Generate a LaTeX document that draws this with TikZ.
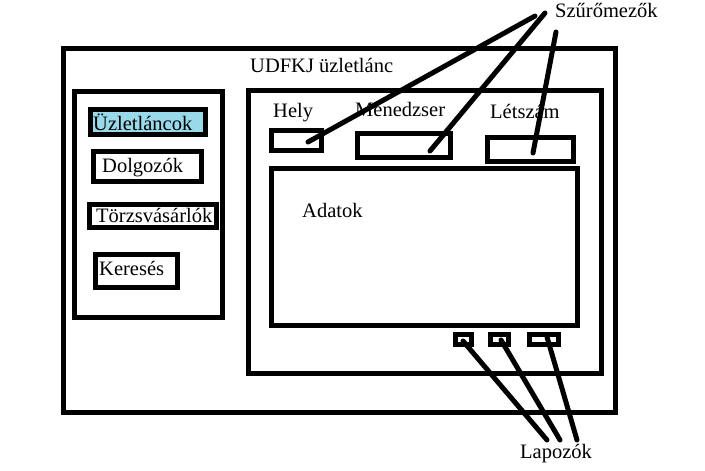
\documentclass[tikz,border=0pt]{standalone}
\usepackage{fontspec}
\setmainfont{Liberation Serif}
\definecolor{selblue}{HTML}{99D9EA}
\begin{document}
\begin{tikzpicture}[x=1pt,y=-1pt,
  box/.style={draw=black,line width=5pt,inner sep=0pt,outer sep=0pt,rectangle},
  lbl/.style={anchor=base west,inner sep=0pt,font=\fontsize{20.5}{24}\selectfont},
  conn/.style={draw=black,line width=5pt,line cap=round}]
\useasboundingbox (0,0) rectangle (705,471);
% frames
\node[box,minimum width=552pt,minimum height=364pt] (outer) at (339,230) {};
\node[box,minimum width=148pt,minimum height=226pt] (menu) at (148,204) {};
\node[box,minimum width=353pt,minimum height=283pt] (inner) at (424.5,231.5) {};
\node[box,minimum width=306pt,minimum height=157pt] (data) at (424,246.5) {};
% menu buttons
\node[box,fill=selblue,minimum width=115pt,minimum height=25pt] (b1) at (147.5,121.5) {};
\node[box,minimum width=108pt,minimum height=30pt] (b2) at (147,166) {};
\node[box,minimum width=127pt,minimum height=23pt] (b3) at (152.5,215.5) {};
\node[box,minimum width=82pt,minimum height=33pt] (b4) at (136,270.5) {};
% filter fields
\node[box,minimum width=50pt,minimum height=20pt] (f1) at (296,140) {};
\node[box,minimum width=93pt,minimum height=24pt] (f2) at (403.5,145) {};
\node[box,minimum width=86pt,minimum height=24pt] (f3) at (530,149) {};
% pager boxes
\node[box,minimum width=16pt,minimum height=10pt] (p1) at (463,339) {};
\node[box,minimum width=18pt,minimum height=10pt] (p2) at (499,339) {};
\node[box,minimum width=29pt,minimum height=10pt] (p3) at (543.5,339) {};
% texts
\node[lbl] (title) at (250,72) {UDFKJ üzletlánc};
\node[lbl] (t1) at (93,130) {Üzletláncok};
\node[lbl] (t2) at (102,172) {Dolgozók};
\node[lbl] (t3) at (96,222) {Törzsvásárlók};
\node[lbl] (t4) at (99,275) {Keresés};
\node[lbl] (h1) at (273,117) {Hely};
\node[lbl] (h2) at (355,116) {Menedzser};
\node[lbl] (h3) at (490,118) {Létszám};
\node[lbl] (adat) at (302,217) {Adatok};
\node[lbl] (szuro) at (555,17) {Szűrőmezők};
\node[lbl] (lap) at (520,458) {Lapozók};
% connector end points
\coordinate (s1) at (535,16);
\coordinate (s2) at (545,13);
\coordinate (s3) at (556,32);
\coordinate (e1) at (308,142);
\coordinate (e2) at (430,151);
\coordinate (e3) at (533,153);
\coordinate (l1) at (547,440);
\coordinate (l2) at (560,440);
\coordinate (l3) at (577,440);
\coordinate (q1) at (463,341);
\coordinate (q2) at (501,340);
\coordinate (q3) at (547,337);
\draw[conn] (s1) -- (e1);
\draw[conn] (s2) -- (e2);
\draw[conn] (s3) -- (e3);
\draw[conn] (l1) -- (q1);
\draw[conn] (l2) -- (q2);
\draw[conn] (l3) -- (q3);
\end{tikzpicture}
\end{document}
